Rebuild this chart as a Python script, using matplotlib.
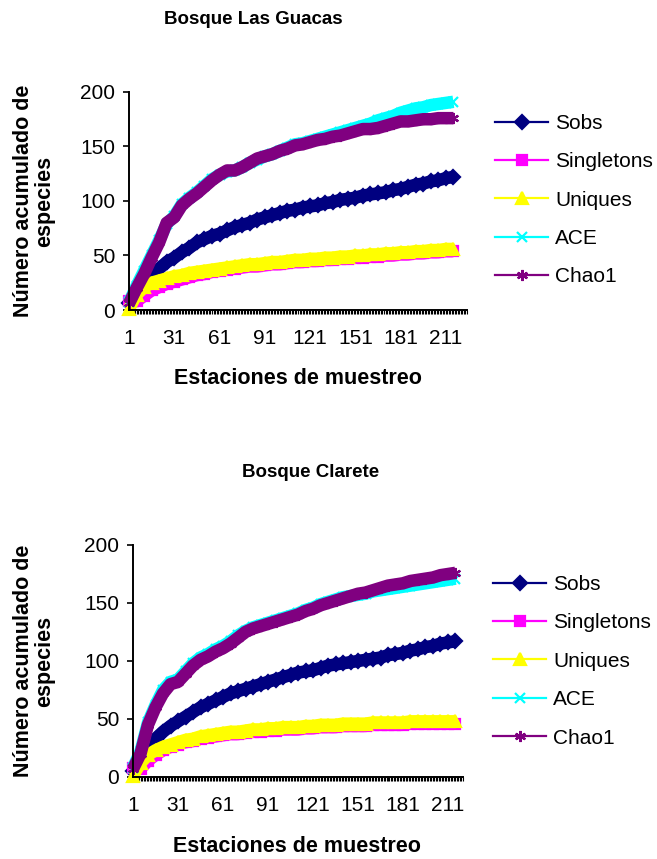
import numpy as np
import matplotlib.pyplot as plt
from matplotlib.lines import Line2D

plt.rcParams['font.family'] = ['Liberation Sans', 'DejaVu Sans']

# sampling stations (every 5th station)
stations = list(range(1, 217, 5))
x_ticks = [1, 31, 61, 91, 121, 151, 181, 211]
y_ticks = [0, 50, 100, 150, 200]

# Bosque Las Guacas
guacas_sobs = [6, 18, 26, 32, 38, 44, 48, 53, 57, 62, 65, 68, 70, 73, 76, 78, 80, 83, 85, 87, 89, 91,
               92, 94, 95, 96, 98, 99, 101, 102, 103, 105, 106, 107, 108, 110, 111, 113, 115, 116, 118, 119, 121, 122]
guacas_singletons = [8, 8, 13, 18, 21, 24, 26, 28, 30, 32, 33, 35, 36, 37, 38, 39, 40, 40, 41, 42, 42, 43,
                     44, 44, 45, 45, 46, 46, 47, 47, 48, 48, 49, 49, 50, 50, 51, 51, 52, 52, 53, 53, 54, 54]
guacas_uniques = [1, 14, 21, 25, 27, 29, 31, 32, 34, 35, 36, 37, 38, 39, 40, 41, 42, 42, 43, 44, 44, 45,
                  46, 46, 47, 47, 48, 48, 49, 49, 50, 50, 51, 51, 52, 52, 53, 53, 54, 54, 55, 55, 56, 56]
guacas_ace = [7, 22, 36, 50, 64, 79, 86, 97, 103, 108, 114, 120, 124, 127, 128, 131, 135, 138, 141, 143, 146, 149,
              152, 153, 155, 157, 159, 161, 163, 165, 167, 169, 171, 174, 176, 178, 181, 183, 185, 186, 188, 189, 190, 191]
guacas_chao1 = [6, 20, 33, 48, 62, 80, 85, 96, 102, 107, 113, 119, 124, 128, 128, 131, 135, 139, 141, 143, 146, 148,
                151, 152, 154, 156, 157, 159, 160, 162, 164, 166, 166, 167, 169, 171, 173, 173, 174, 175, 175, 176, 176, 176]

# Bosque Clarete
clarete_sobs = [5, 17, 26, 33, 39, 44, 48, 52, 56, 60, 63, 66, 69, 72, 74, 76, 78, 80, 82, 84, 86, 88,
                90, 91, 92, 94, 96, 97, 98, 99, 100, 101, 102, 103, 105, 106, 107, 109, 110, 112, 113, 115, 116, 117]
clarete_singletons = [8, 7, 14, 19, 23, 26, 28, 30, 31, 33, 34, 35, 36, 37, 37, 38, 39, 39, 40, 40, 41, 41,
                      41, 42, 42, 43, 43, 43, 44, 44, 44, 44, 45, 45, 45, 45, 45, 46, 46, 46, 46, 46, 46, 46]
clarete_uniques = [1, 12, 19, 23, 26, 28, 30, 32, 33, 35, 36, 37, 38, 39, 39, 40, 41, 41, 42, 42, 43, 43,
                   43, 44, 44, 45, 45, 45, 46, 46, 46, 46, 47, 47, 47, 47, 47, 48, 48, 48, 48, 48, 48, 48]
clarete_ace = [8, 22, 47, 62, 75, 82, 84, 91, 98, 103, 106, 110, 113, 117, 122, 126, 129, 131, 133, 135, 137, 139,
               141, 144, 146, 149, 151, 153, 155, 156, 157, 158, 160, 161, 162, 163, 164, 165, 166, 167, 168, 169, 170, 171]
clarete_chao1 = [7, 20, 45, 60, 72, 80, 82, 89, 96, 101, 104, 108, 111, 115, 120, 125, 128, 130, 132, 134, 136, 138,
                 140, 143, 145, 148, 150, 152, 154, 156, 158, 159, 161, 163, 165, 166, 167, 169, 170, 171, 172, 174, 175, 176]

LABELS = ["Sobs", "Singletons", "Uniques", "ACE", "Chao1"]
COLORS = ["#000080", "#FF00FF", "#FFFF00", "#00FFFF", "#800080"]
MARKERS = ["D", "s", "^", "x", (6, 2, 0)]
SIZES = [7.5, 7.5, 8.5, 7, 8]
BAND_WIDTH = 9.0  # markers at every station merge into a solid band

W, H = 657, 859


def px(x, y):
    return x / W, 1 - y / H


def draw_panel(ax, series, n_cat, title, title_xy, xlabel_xy, legend_xy):
    for vals, col, mk, ms in zip(series, COLORS, MARKERS, SIZES):
        ax.plot(stations, vals, color=col, lw=BAND_WIDTH, solid_capstyle='butt',
                solid_joinstyle='round', marker=mk, markersize=ms,
                markerfacecolor=col, markeredgecolor=col, markeredgewidth=1.6,
                clip_on=False)

    ax.set_xlim(1, n_cat)
    ax.set_ylim(0, 200)
    ax.set_xticks(x_ticks)
    ax.set_xticks(np.arange(1, n_cat + 1), minor=True)
    ax.set_yticks(y_ticks)
    ax.tick_params(axis='x', which='both', direction='out', length=3, width=0.8,
                   labelsize=15, pad=11)
    ax.tick_params(axis='y', direction='out', length=4, width=1.2, labelsize=15, pad=6)
    for side in ('top', 'right'):
        ax.spines[side].set_visible(False)
    for side in ('left', 'bottom'):
        ax.spines[side].set_linewidth(1.4)

    handles = [Line2D([], [], color=col, lw=1.6, marker=mk, markersize=ms,
                      markerfacecolor=col, markeredgecolor=col, markeredgewidth=1.6)
               for col, mk, ms in zip(COLORS, MARKERS, SIZES)]
    ax.legend(handles, LABELS, loc='upper left', bbox_to_anchor=px(*legend_xy),
              bbox_transform=fig.transFigure, frameon=False, borderpad=0, borderaxespad=0,
              handlelength=2.55, handletextpad=0.35, labelspacing=0.93, fontsize=15)

    fig.text(*px(*title_xy), title, ha='center', va='center', fontsize=13.5, fontweight='bold')
    fig.text(*px(*xlabel_xy), "Estaciones de muestreo", ha='center', va='center',
             fontsize=15.5, fontweight='bold')
    pos = ax.get_position()
    fig.text(34 / W, (pos.y0 + pos.y1) / 2, "Número acumulado de\nespecies", rotation=90,
             ha='center', va='center', multialignment='center', fontsize=15.5,
             fontweight='bold', linespacing=1.0)


fig = plt.figure(figsize=(W / 100, H / 100), dpi=100)
ax_top = fig.add_axes([129 / W, 1 - 310 / H, (467 - 129) / W, (310 - 92) / H])
ax_bot = fig.add_axes([133 / W, 1 - 777 / H, (463 - 133) / W, (777 - 545) / H])

draw_panel(ax_top, [guacas_sobs, guacas_singletons, guacas_uniques, guacas_ace, guacas_chao1],
           225, "Bosque Las Guacas", (253, 20), (298, 378), (495, 114))
draw_panel(ax_bot, [clarete_sobs, clarete_singletons, clarete_uniques, clarete_ace, clarete_chao1],
           221, "Bosque Clarete", (311, 473), (297, 847), (493, 575))

fig.savefig("out.png", dpi=100)
